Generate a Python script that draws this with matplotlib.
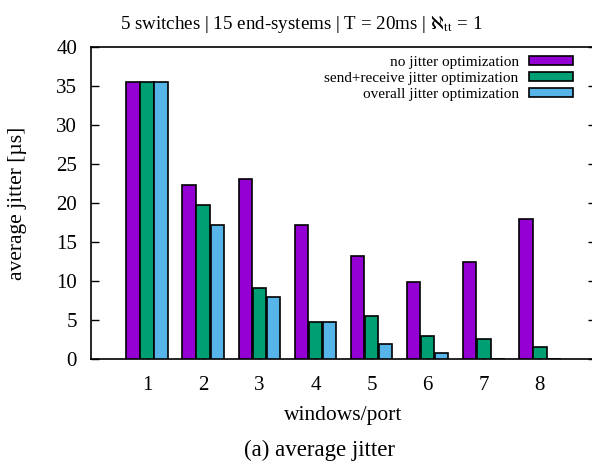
import matplotlib
matplotlib.use("Agg")
import matplotlib.pyplot as plt
import numpy as np

plt.rcParams['font.family'] = ['Liberation Serif', 'DejaVu Serif']
plt.rcParams['mathtext.fontset'] = 'stix'

# data
ports = [1, 2, 3, 4, 5, 6, 7, 8]
no_opt = [35.5, 22.3, 23.1, 17.2, 13.2, 9.9, 12.5, 17.9]
send_recv = [35.5, 19.7, 9.1, 4.8, 5.5, 3.0, 2.6, 1.5]
overall = [35.5, 17.2, 8.0, 4.8, 1.9, 0.75, 0.0, 0.0]
labels = ["no jitter optimization", "send+receive jitter optimization", "overall jitter optimization"]
colors = ["#9400D3", "#009E73", "#56B4E9"]

fig = plt.figure(figsize=(5.92, 4.67), dpi=100)
ax = fig.add_axes([91/592, 1 - 359/467, 505/592, 312/467])

x = np.array(ports)
w = 0.24
for i, (vals, lab, col) in enumerate(zip([no_opt, send_recv, overall], labels, colors)):
    ax.bar(x + (i - 1) * 0.25, vals, width=w, color=col, edgecolor='black',
           linewidth=1.2, label=lab, zorder=3)

ax.set_xlim(0, 9)
ax.set_ylim(0, 40)
ax.set_yticks(range(0, 41, 5))
ax.set_xticks(ports)
ax.tick_params(axis='y', direction='in', length=6, width=1, labelsize=15, right=True, pad=10)
ax.tick_params(axis='x', direction='in', length=6, width=1, labelsize=15, pad=12)
for s in ax.spines.values():
    s.set_linewidth(1.2)

ax.set_xlabel("windows/port", fontsize=15.5, labelpad=8)
ax.set_ylabel("average jitter [µs]", fontsize=15.5, labelpad=21)
ax.set_title(r"5 switches | 15 end-systems | T = 20ms | $\aleph_{\rm tt}$ = 1", fontsize=13.7,
             pad=13, x=(301 - 91) / 505)

leg = ax.legend(loc='upper right', bbox_to_anchor=((579 - 91) / 505, 0.99), frameon=False, fontsize=11,
                markerfirst=False, handlelength=2.9, handleheight=0.55, handletextpad=0.65,
                labelspacing=0.18, borderaxespad=0)
for t in leg.get_texts():
    t.set_ha('right')

fig.text(320/592, 1 - 450/467, "(a) average jitter", ha='center', va='center', fontsize=16.5)

fig.savefig("out.png", dpi=100)
